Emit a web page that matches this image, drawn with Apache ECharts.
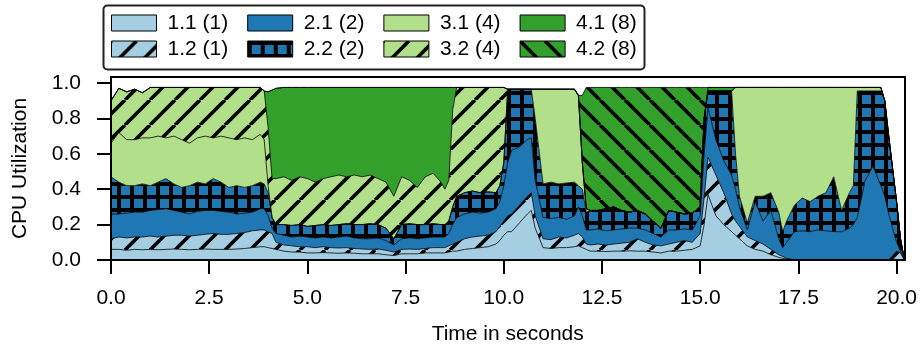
<!DOCTYPE html>
<html>
<head>
<meta charset="utf-8">
<script src="https://cdn.jsdelivr.net/npm/echarts@6.0.0/dist/echarts.min.js"></script>
<style>
  html, body { margin: 0; padding: 0; background: #fff; }
  #chart { width: 920px; height: 350px; }
</style>
</head>
<body>
<div id="chart"></div>
<script>
// time in seconds, shared by every layer
const time = [0,0.2,0.4,0.6,0.8,1.0,1.2,1.4,1.6,1.8,2.0,2.2,2.4,2.6,2.8,3.0,3.2,3.4,3.6,3.8,3.9,4.0,4.1,
  4.2,4.4,4.6,4.8,5.0,5.2,5.4,5.6,5.8,6.0,6.2,6.4,6.6,6.8,7.0,7.2,7.4,7.6,7.8,8.0,8.2,8.4,8.5,8.6,8.7,8.8,
  9.0,9.2,9.4,9.6,9.8,9.9,10.0,10.1,10.2,10.4,10.6,10.7,10.8,11.0,11.2,11.4,11.6,11.8,11.9,12.0,12.1,
  12.2,12.4,12.6,12.8,13.0,13.2,13.4,13.6,13.8,14.0,14.2,14.4,14.6,14.8,15.0,15.1,15.2,15.4,15.6,15.8,15.9,
  16.0,16.2,16.4,16.6,16.8,17.0,17.1,17.2,17.4,17.6,17.8,18.0,18.2,18.4,18.6,18.8,18.9,19.0,19.2,19.4,19.6,
  19.7,19.8,20.0,20.1,20.2];

// CPU share of each layer (stacked bottom to top)
const util11 = [.06,.06,.055,.06,.058,.06,.058,.06,.062,.06,.058,.06,.062,.06,.06,.06,.062,.065,.07,.075,.075,
  .07,.065,.06,.05,.045,.045,.04,.04,.042,.04,.038,.04,.038,.035,.035,.035,.03,.025,.035,.035,.035,.04,.04,.04,.04,.045,.05,
  .05,.06,.065,.07,.075,.09,.11,.14,
  .16,.16,.21,.26,.28,.18,
  .07,.065,.07,.07,.075,.08,.07,.06,
  .05,.05,.048,.05,.05,.052,.05,.05,.045,.04,.05,.05,.055,.06,.08,.20,
  .37,.25,.20,.16,.14,.12,.08,.06,.05,.03,.015,.01,.005,
  0,0,0,0,0,0,0,0,0,0,0,0,0,0,0,0,0,0];
const util12 = [.06,.07,.07,.07,.072,.075,.072,.075,.078,.08,.077,.08,.083,.09,.085,.085,.088,.09,.095,.095,.095,
  .09,.085,.04,.035,.035,.03,.035,.03,.033,.03,.03,.03,.027,.027,.025,.027,.025,.02,.025,.027,.025,.025,.03,.03,.03,.035,.04,
  .05,.06,.065,.065,.065,.07,.08,.08,
  .09,.10,.10,.10,.10,.07,
  .05,.05,.06,.055,.065,.07,.06,.03,
  .035,.04,.037,.04,.045,.048,.07,.05,.04,.04,.04,.05,.055,.04,.07,.15,
  .21,.23,.18,.10,.08,.07,.05,.05,.04,.03,.015,.01,.005,
  0,0,0,0,0,0,0,0,0,0,0,0,0,0,0,.05,.04,0];
const util21 = [.14,.13,.14,.14,.14,.145,.155,.155,.14,.13,.125,.135,.135,.13,.13,.125,.11,.11,.105,.12,.12,
  .09,.03,.05,.055,.05,.06,.055,.055,.055,.055,.062,.065,.06,.058,.06,.063,.055,.04,.06,.063,.06,.06,.06,.06,.06,.07,.11,
  .14,.14,.14,.13,.13,.13,.14,.20,
  .30,.36,.33,.32,.31,.20,
  .12,.12,.11,.105,.11,.15,.12,.08,
  .085,.085,.08,.08,.08,.08,.06,.07,.065,.05,.08,.07,.065,.07,.10,.25,
  .28,.20,.18,.22,.18,.11,.04,.22,.13,.22,.09,.05,.09,
  .16,.165,.16,.17,.165,.16,.16,.18,.20,
  .24,.45,.53,.42,.36,.26,.05,.01,0];
const util22 = [.21,.18,.155,.15,.16,.14,.155,.17,.15,.14,.16,.165,.15,.18,.165,.14,.16,.145,.15,.15,.14,
  .13,.06,.05,.06,.065,.065,.06,.07,.07,.07,.07,.07,.075,.08,.085,.075,.07,.035,.08,.08,.08,.075,.075,.07,.07,.07,.10,
  .12,.12,.12,.115,.115,.09,.09,.13,
  .415,.345,.325,.285,.275,.35,
  .19,.205,.19,.205,.19,.12,.15,.10,
  .11,.105,.125,.13,.105,.09,.10,.09,.07,.05,.11,.10,.085,.095,.05,.20,
  .095,.275,.395,.475,.20,.06,.04,.03,.14,.10,.15,.09,.12,
  .15,.185,.17,.19,.215,.31,.12,.20,.22,
  .715,.505,.425,.535,.54,.44,.23,.07,0];
const util31 = [.19,.28,.26,.26,.26,.27,.26,.23,.27,.27,.24,.25,.27,.23,.26,.28,.26,.28,.26,.27,.25,
  .04,0,0,0,0,0,0,0,0,0,0,0,0,0,0,0,0,0,0,0,0,0,0,0,0,0,0,
  0,0,0,0,0,0,0,0,
  0,0,0,0,0,.165,
  .535,.525,.535,.53,.525,.51,.15,.02,
  0,0,0,0,0,0,0,0,0,0,0,0,0,0,0,0,
  0,0,0,0,.375,.615,.765,.615,.615,.595,.705,.815,.755,
  .665,.625,.645,.615,.595,.505,.695,.595,.555,
  .02,.02,.02,.02,0,0,0,0,0];
const util32 = [.24,.25,.27,.285,.255,.285,.275,.285,.275,.295,.315,.285,.275,.285,.275,.285,.295,.285,.295,.265,.275,
  .33,.22,.26,.27,.255,.27,.27,.245,.26,.275,.28,.265,.28,.27,.275,.26,.26,.24,.27,.245,.21,.27,.285,.24,.20,.23,.55,
  .615,.595,.585,.595,.59,.595,.555,.425,
  0,0,0,0,0,0,
  0,0,0,0,0,0,0,0,
  0,0,0,0,0,0,0,0,0,0,0,0,0,0,0,0,
  0,0,0,0,0,0,0,0,0,0,0,0,0,
  0,0,0,0,0,0,0,0,0,
  0,0,0,0,0,0,0,0,0];
const util41 = [0,0,0,0,0,0,0,0,0,0,0,0,0,0,0,0,0,0,0,0,0,
  .20,.50,.51,.505,.525,.505,.515,.535,.515,.505,.495,.505,.495,.505,.495,.515,.535,.615,.505,.525,.565,.505,.485,.535,.575,.525,.125,
  0,0,0,0,0,0,0,0,
  0,0,0,0,0,0,
  0,0,0,0,0,0,0,0,
  0,0,0,0,0,0,0,0,0,0,0,0,0,0,0,0,
  .02,.02,.02,.02,0,0,0,0,0,0,0,0,0,
  0,0,0,0,0,0,0,0,0,
  0,0,0,0,0,0,0,0,0];
const util42 = [0,0,0,0,0,0,0,0,0,0,0,0,0,0,0,0,0,0,0,0,0,
  0,0,0,0,0,0,0,0,0,0,0,0,0,0,0,0,0,0,0,0,0,0,0,0,0,0,0,
  0,0,0,0,0,0,0,0,
  0,0,0,0,0,0,
  0,0,0,0,0,0,.38,.685,
  .695,.695,.685,.675,.695,.705,.695,.715,.755,.795,.695,.705,.715,.71,.675,.175,
  0,0,0,0,0,0,0,0,0,0,0,0,0,
  0,0,0,0,0,0,0,0,0,
  0,0,0,0,0,0,0,0,0];

const xTickValues = [0, 2.5, 5, 7.5, 10, 12.5, 15, 17.5, 20];
const yTickValues = [0, 0.2, 0.4, 0.6, 0.8, 1.0];
const legendTop = ['1.1 (1)', '2.1 (2)', '3.1 (4)', '4.1 (8)'];
const legendBottom = ['1.2 (1)', '2.2 (2)', '3.2 (4)', '4.2 (8)'];

const FONT = "'Liberation Sans', Arial, Helvetica, sans-serif";

// tile fills imitating matplotlib hatches
function hatchFill(base, kind) {
  if (!kind) return base;
  const s = kind === 'grid' ? 13 : 25;
  const c = document.createElement('canvas');
  c.width = s; c.height = s;
  const g = c.getContext('2d');
  g.fillStyle = base;
  g.fillRect(0, 0, s, s);
  g.fillStyle = '#000';
  g.strokeStyle = '#000';
  if (kind === 'grid') {
    g.fillRect(0, 0, 4, s);
    g.fillRect(0, 0, s, 4);
  } else {
    g.lineWidth = 3.6;
    for (const o of [-s, 0, s]) {
      g.beginPath();
      if (kind === 'fwd') { g.moveTo(o, s); g.lineTo(o + s, 0); }
      else { g.moveTo(o, 0); g.lineTo(o + s, s); }
      g.stroke();
    }
  }
  return { image: c, repeat: 'repeat' };
}

const layers = [
  { name: '1.1 (1)', values: util11, color: '#a6cee3', hatch: null },
  { name: '1.2 (1)', values: util12, color: '#a6cee3', hatch: 'fwd' },
  { name: '2.1 (2)', values: util21, color: '#1f78b4', hatch: null },
  { name: '2.2 (2)', values: util22, color: '#1f78b4', hatch: 'grid' },
  { name: '3.1 (4)', values: util31, color: '#b2df8a', hatch: null },
  { name: '3.2 (4)', values: util32, color: '#b2df8a', hatch: 'fwd' },
  { name: '4.1 (8)', values: util41, color: '#33a02c', hatch: null },
  { name: '4.2 (8)', values: util42, color: '#33a02c', hatch: 'back' },
];
layers.forEach(l => { l.fill = hatchFill(l.color, l.hatch); });
const fillOf = name => layers.find(l => l.name === name).fill;

const legendBase = {
  orient: 'horizontal',
  left: 111,
  itemWidth: 45,
  itemHeight: 16,
  itemGap: 19,
  icon: 'rect',
  selectedMode: false,
  z: 10,
  padding: 0,
  itemStyle: { borderColor: '#000', borderWidth: 1 },
  textStyle: { fontSize: 21, fontFamily: FONT, color: '#000', lineHeight: 24, padding: [0, 0, 0, 6] },
};

const chart = echarts.init(document.getElementById('chart'), null, { renderer: 'canvas' });
chart.setOption({
  animation: false,
  backgroundColor: '#fff',
  grid: { left: 111, right: 15, top: 77, bottom: 90, show: false },
  graphic: [{
    type: 'rect',
    z: 1,
    shape: { x: 103.5, y: 5.5, width: 541, height: 64, r: 4 },
    style: { fill: '#fff', stroke: '#222', lineWidth: 2 },
  }],
  legend: [
    Object.assign({}, legendBase, { top: 11, data: legendTop.map(n => ({ name: n, itemStyle: { color: fillOf(n) } })) }),
    Object.assign({}, legendBase, { top: 37, data: legendBottom.map(n => ({ name: n, itemStyle: { color: fillOf(n) } })) }),
  ],
  xAxis: [{
    type: 'value',
    min: 0,
    max: 20.2,
    z: 10,
    axisLine: { show: true, onZero: false, lineStyle: { color: '#000', width: 2 } },
    axisTick: { show: true, inside: false, length: 14, lineStyle: { color: '#000', width: 2 }, customValues: xTickValues },
    axisLabel: { customValues: xTickValues, formatter: v => v.toFixed(1), margin: 28, fontSize: 21, fontFamily: FONT, color: '#000' },
    splitLine: { show: false },
    name: 'Time in seconds',
    nameLocation: 'middle',
    nameGap: 64,
    nameTextStyle: { fontSize: 21, fontFamily: FONT, color: '#000' },
  }, {
    type: 'value',
    position: 'top',
    min: 0,
    max: 20.2,
    z: 10,
    axisLine: { show: true, onZero: false, lineStyle: { color: '#000', width: 2 } },
    axisTick: { show: false },
    axisLabel: { show: false },
    splitLine: { show: false },
  }],
  yAxis: [{
    type: 'value',
    min: 0,
    max: 1.034,
    z: 10,
    axisLine: { show: true, onZero: false, lineStyle: { color: '#000', width: 2 } },
    axisTick: { show: true, inside: false, length: 14, lineStyle: { color: '#000', width: 2 }, customValues: yTickValues },
    axisLabel: { customValues: yTickValues, formatter: v => v.toFixed(1), margin: 30, fontSize: 21, fontFamily: FONT, color: '#000' },
    splitLine: { show: false },
    name: 'CPU Utilization',
    nameLocation: 'middle',
    nameGap: 80,
    nameTextStyle: { fontSize: 21, fontFamily: FONT, color: '#000' },
  }, {
    type: 'value',
    position: 'right',
    min: 0,
    max: 1.034,
    z: 10,
    axisLine: { show: true, onZero: false, lineStyle: { color: '#000', width: 2 } },
    axisTick: { show: false },
    axisLabel: { show: false },
    splitLine: { show: false },
  }],
  // value first in each row so the stack adds up utilisation, not time
  series: layers.map(l => ({
    name: l.name,
    type: 'line',
    stack: 'cpu',
    symbol: 'none',
    silent: true,
    emphasis: { disabled: true },
    dimensions: ['util', 'time'],
    encode: { x: 'time', y: 'util' },
    data: time.map((t, i) => [l.values[i], t]),
    itemStyle: { color: l.color },
    lineStyle: { color: '#000', width: 0.8 },
    areaStyle: { color: l.fill, opacity: 1 },
  })),
});
</script>
</body>
</html>
